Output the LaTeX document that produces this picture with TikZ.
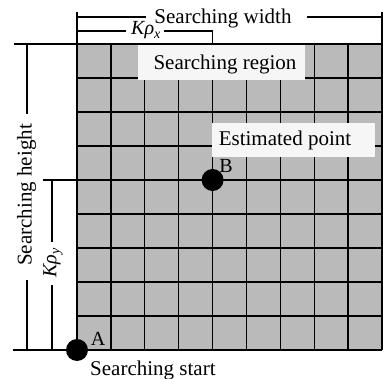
\documentclass[tikz,border=0pt]{standalone}
\usepackage{fontspec}
\setmainfont{Liberation Serif}
\usetikzlibrary{calc}
\definecolor{cellgray}{RGB}{186,186,186}
\definecolor{tagwhite}{RGB}{246,246,246}
\begin{document}
\begin{tikzpicture}[x=1pt,y=-1pt]
\tikzset{
  dimline/.style={line width=1.2pt},
  gridline/.style={line width=1.3pt},
  lbl/.style={font=\fontsize{21}{24}\selectfont, inner sep=0pt},
  sym/.style={font=\fontsize{20}{22}\selectfont, inner sep=0pt},
  tagbox/.style={fill=tagwhite, draw=none, inner sep=0pt},
  spot/.style={circle, fill=black, minimum size=22pt, inner sep=0pt},
}
\useasboundingbox (0,0) rectangle (383,379);

% searching region: 9 x 9 cells
\coordinate (gTL) at (77,44);
\coordinate (gBR) at (382,350);
\fill[cellgray] (gTL) rectangle (gBR);
\foreach \i in {0,...,9} {
  \draw[gridline] ($(77,44)+(\i*305/9,0)$) -- ($(77,350)+(\i*305/9,0)$);
  \draw[gridline] ($(77,44)+(0,\i*34)$) -- ($(382,44)+(0,\i*34)$);
}

% long base lines
\coordinate (topL) at (14,44);
\coordinate (botL) at (13,350);
\draw[dimline] (topL) -- (gTL);
\draw[dimline] (botL) -- (77,350);

% searching width
\coordinate (wL) at (77,17);
\coordinate (wR) at (382,17);
\coordinate (wLtick) at (77,12);
\coordinate (wRtick) at (382,12);
\coordinate (wRbase) at (382,44);
\node[lbl, anchor=base] (width) at (223,24) {Searching width};
\draw[dimline] (wLtick) -- (gTL);
\draw[dimline] (wRtick) -- (wRbase);
\draw[dimline] (wL) -- ([xshift=-8pt]width.west |- wL);
\draw[dimline] ([xshift=15pt]width.east |- wR) -- (wR);

% K rho x
\coordinate (kxL) at (77,31);
\coordinate (kxR) at (212.6,31);
\coordinate (kxBase) at (212.6,44);
\node[sym, anchor=base] (kx) at (146,35) {\textit{Kρ}\textsubscript{\textit{x}}};
\draw[dimline] (kxL) -- ([xshift=-5pt]kx.west |- kxL);
\draw[dimline] ([xshift=3pt]kx.east |- kxR) -- (kxR);
\draw[dimline] ([yshift=-1pt]kxR) -- (kxBase);

% searching height
\coordinate (hT) at (27,44);
\coordinate (hB) at (27,350);
\node[lbl, rotate=90] (height) at (26.5,195) {Searching height};
\draw[dimline] (hT) -- ($(hT |- height.east)+(0,-10)$);
\draw[dimline] ($(hB |- height.west)+(0,14)$) -- (hB);

% K rho y
\coordinate (kyT) at (52,181);
\coordinate (kyB) at (52,350);
\coordinate (kyTick) at (43,180);
\node[sym, rotate=90] (ky) at (53,263) {\textit{Kρ}\textsubscript{\textit{y}}};
\draw[dimline] (kyTick) -- (77,180);
\draw[dimline] (kyT) -- ($(kyT |- ky.east)+(0,-6)$);
\draw[dimline] ($(kyB |- ky.west)+(0,7)$) -- (kyB);

% label boxes
\node[tagbox, minimum width=167pt, minimum height=35pt] (regbox) at (221.5,62.5) {};
\node[lbl, anchor=base] (region) at (225,70) {Searching region};
\node[tagbox, minimum width=163pt, minimum height=34pt] (estbox) at (293.5,140) {};
\node[lbl, anchor=base] (est) at (285,146) {Estimated point};

% start and estimated points
\node[spot] (A) at (77,350) {};
\node[spot] (B) at (212.6,180) {};
\node[sym, anchor=base] (Alabel) at (98,345) {A};
\node[sym, anchor=base] (Blabel) at (226,173) {B};
\node[lbl, anchor=base west] (start) at (90,375) {Searching start};
\end{tikzpicture}
\end{document}
